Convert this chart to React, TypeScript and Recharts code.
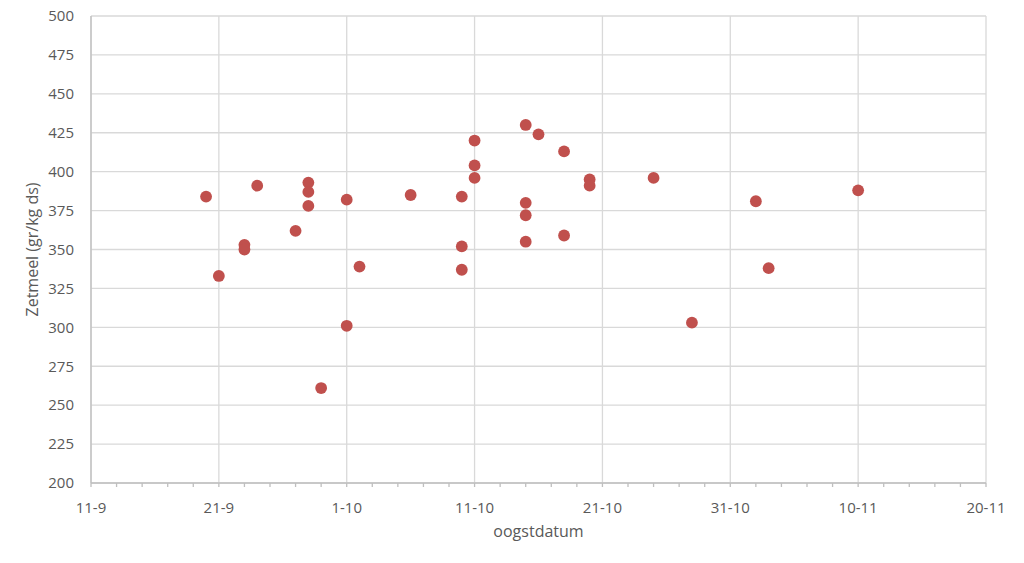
import React from 'react';
import { ScatterChart, Scatter, XAxis, YAxis, CartesianGrid } from 'recharts';

// Harvest dates (day-month) and starch content (gr/kg ds)
const harvestDates: string[] = [
  '20-9', '21-9', '23-9', '23-9', '24-9', '27-9', '28-9', '28-9', '28-9', '29-9',
  '1-10', '1-10', '2-10', '6-10', '10-10', '10-10', '10-10', '11-10', '11-10', '11-10',
  '15-10', '15-10', '15-10', '15-10', '16-10', '18-10', '18-10', '20-10', '20-10', '25-10',
  '28-10', '2-11', '3-11', '10-11',
];
const starchValues: number[] = [
  384, 333, 353, 350, 391, 362, 393, 387, 378, 261,
  382, 301, 339, 385, 384, 352, 337, 420, 404, 396,
  430, 380, 372, 355, 424, 413, 359, 395, 391, 396,
  303, 381, 338, 388,
];

const xTickLabels: string[] = ['11-9', '21-9', '1-10', '11-10', '21-10', '31-10', '10-11', '20-11'];
const yTicks: number[] = [200, 225, 250, 275, 300, 325, 350, 375, 400, 425, 450, 475, 500];

const ORIGIN = '11-9';
const toDay = (s: string): number => {
  const [d, m] = s.split('-').map(Number);
  const [od, om] = ORIGIN.split('-').map(Number);
  return Math.round((Date.UTC(2021, m - 1, d) - Date.UTC(2021, om - 1, od)) / 86400000);
};

const majorDays = xTickLabels.map(toDay);
const minorDays: number[] = [];
for (let d = majorDays[0]; d <= majorDays[majorDays.length - 1]; d += 2) minorDays.push(d);

const data = harvestDates.map((s, i) => ({ day: toDay(s), value: starchValues[i] }));

const TEXT = '#595959';
const GRID = '#d9d9d9';
const AXIS = '#bfbfbf';
const DOT = '#c0504d';
const FONT = '"Open Sans", sans-serif';

const Dot = (props: any) => <circle cx={props.cx} cy={props.cy} r={5.9} fill={DOT} />;

export default function App() {
  return (
    <div style={{ position: 'absolute', left: 0, top: 0, fontFamily: FONT }}>
      <ScatterChart
        width={1024}
        height={563}
        margin={{ top: 16, right: 38, left: 0, bottom: 20 }}
      >
        <CartesianGrid stroke={GRID} strokeWidth={1.3} verticalValues={majorDays} />
        <XAxis
          type="number"
          dataKey="day"
          domain={[majorDays[0], majorDays[majorDays.length - 1]]}
          ticks={minorDays}
          interval={0}
          height={60}
          tickSize={4}
          tickMargin={15}
          stroke={AXIS}
          strokeWidth={1.3}
          tick={{ fill: TEXT, fontSize: 15, fontFamily: FONT }}
          tickFormatter={(v: number) => {
            const i = majorDays.indexOf(v);
            return i >= 0 ? xTickLabels[i] : '';
          }}
          label={{ value: 'oogstdatum', position: 'insideBottom', offset: 6, fill: TEXT, fontSize: 16, fontFamily: FONT }}
        />
        <YAxis
          type="number"
          dataKey="value"
          domain={[200, 500]}
          ticks={yTicks}
          interval={0}
          width={91}
          tickLine={false}
          tickSize={0}
          tickMargin={17}
          stroke={AXIS}
          strokeWidth={1.3}
          tick={{ fill: TEXT, fontSize: 15, fontFamily: FONT }}
          label={{
            value: 'Zetmeel (gr/kg ds)',
            angle: -90,
            position: 'insideLeft',
            offset: 32,
            fill: TEXT,
            fontSize: 16,
            fontFamily: FONT,
            style: { textAnchor: 'middle' },
          }}
        />
        <Scatter data={data} fill={DOT} shape={Dot} isAnimationActive={false} />
      </ScatterChart>
    </div>
  );
}
